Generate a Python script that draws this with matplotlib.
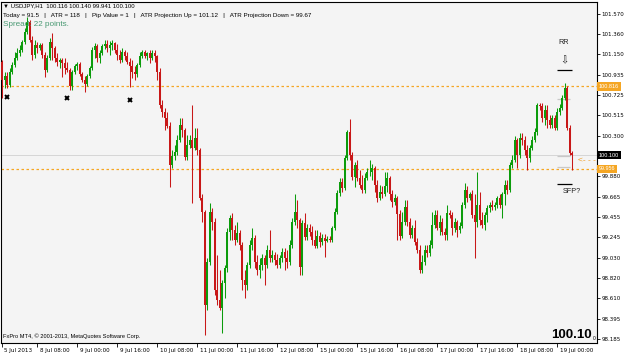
import matplotlib
matplotlib.use('Agg')
import matplotlib.pyplot as plt
import matplotlib.transforms as mtransforms
import numpy as np

# ---------------- data (USDJPY, H1) ----------------
first_open = 101.07
closes = [
    100.88, 100.92, 100.83, 100.97, 101.04, 101.11, 101.16, 101.20, 101.28, 101.38,
    101.49, 101.30, 101.14, 101.25, 101.22, 101.25, 101.14, 100.99, 101.11, 101.28,
    101.22, 101.11, 101.07, 101.09, 101.06, 101.01, 100.99, 100.82, 100.97, 101.03,
    101.05, 100.95, 100.88, 100.84, 100.92, 101.01, 101.20, 101.24, 101.11, 101.16,
    101.24, 101.26, 101.22, 101.25, 101.27, 101.20, 101.14, 101.09, 101.17, 101.13,
    101.07, 101.03, 100.97, 100.94, 101.04, 101.13, 101.17, 101.13, 101.16, 101.11,
    101.16, 101.13, 100.97, 100.62, 100.55, 100.49, 100.40, 100.00, 100.09, 100.13,
    100.26, 100.41, 100.36, 100.08, 100.21, 100.26, 100.17, 100.28, 100.15, 99.65,
    99.51, 98.54, 98.99, 99.51, 99.40, 98.70, 98.59, 98.51, 98.77, 98.92,
    99.30, 99.45, 99.32, 99.22, 99.29, 99.16, 98.80, 98.75, 98.96, 99.16,
    99.24, 98.99, 98.90, 98.96, 99.03, 98.96, 99.11, 99.03, 99.06, 99.01,
    98.96, 99.03, 99.09, 99.03, 98.99, 99.16, 99.40, 99.51, 99.42, 98.93,
    99.39, 99.25, 99.34, 99.30, 99.22, 99.15, 99.26, 99.19, 99.24, 99.21,
    99.23, 99.22, 99.34, 99.51, 99.71, 99.82, 99.76, 100.07, 100.34, 100.10,
    99.87, 100.00, 99.86, 99.79, 99.74, 99.86, 99.92, 99.92, 99.97, 99.79,
    99.65, 99.72, 99.69, 99.78, 99.86, 99.69, 99.61, 99.65, 99.49, 99.26,
    99.40, 99.56, 99.40, 99.27, 99.34, 99.20, 99.11, 98.90, 98.99, 99.11,
    99.08, 99.16, 99.37, 99.48, 99.34, 99.40, 99.30, 99.27, 99.50, 99.48,
    99.34, 99.40, 99.32, 99.36, 99.58, 99.74, 99.65, 99.69, 99.48, 99.40,
    99.58, 99.42, 99.37, 99.48, 99.55, 99.58, 99.56, 99.58, 99.65, 99.58,
    99.69, 99.79, 99.74, 100.00, 100.05, 100.26, 100.10, 100.28, 100.26, 100.15,
    100.07, 100.17, 100.26, 100.34, 100.62, 100.61, 100.49, 100.57, 100.47, 100.41,
    100.49, 100.38, 100.55, 100.59, 100.70, 100.80, 100.38, 100.12, 100.10,
]
highs = [
    101.09, 100.97, 100.97, 101.01, 101.07, 101.17, 101.22, 101.25, 101.30, 101.42,
    101.54, 101.51, 101.34, 101.30, 101.28, 101.27, 101.27, 101.17, 101.14, 101.32,
    101.37, 101.24, 101.16, 101.11, 101.11, 101.11, 101.07, 101.01, 100.99, 101.05,
    101.07, 101.07, 100.97, 100.92, 100.95, 101.03, 101.23, 101.27, 101.26, 101.20,
    101.26, 101.30, 101.30, 101.29, 101.30, 101.28, 101.26, 101.20, 101.22, 101.20,
    101.17, 101.11, 101.09, 101.03, 101.06, 101.17, 101.20, 101.20, 101.17, 101.19,
    101.20, 101.19, 101.14, 101.01, 100.67, 100.59, 100.55, 100.45, 100.15, 100.21,
    100.31, 100.49, 100.49, 100.38, 100.31, 100.31, 100.62, 100.38, 100.38, 100.17,
    99.69, 99.53, 99.03, 99.60, 99.55, 99.45, 99.06, 98.90, 98.80, 98.96,
    99.34, 99.48, 99.50, 99.37, 99.40, 99.32, 99.20, 98.90, 98.99, 99.22,
    99.34, 99.27, 99.06, 99.03, 99.07, 99.06, 99.16, 99.32, 99.11, 99.09,
    99.07, 99.06, 99.13, 99.13, 99.11, 99.22, 99.45, 99.69, 99.63, 99.45,
    99.42, 99.50, 99.38, 99.38, 99.36, 99.32, 99.32, 99.30, 99.28, 99.28,
    99.26, 99.26, 99.36, 99.55, 99.74, 99.86, 99.86, 100.10, 100.36, 100.48,
    100.13, 100.03, 100.05, 99.95, 99.89, 99.91, 99.97, 100.05, 100.01, 99.99,
    99.84, 99.79, 99.78, 99.92, 99.92, 99.88, 99.74, 99.69, 99.67, 99.53,
    99.51, 99.63, 99.63, 99.45, 99.37, 99.42, 99.24, 99.16, 99.06, 99.16,
    99.16, 99.22, 99.51, 99.53, 99.53, 99.48, 99.45, 99.34, 99.58, 99.53,
    99.51, 99.45, 99.42, 99.40, 99.61, 99.81, 99.78, 99.72, 99.74, 99.69,
    99.92, 99.72, 99.51, 99.51, 99.58, 99.61, 99.63, 99.61, 99.67, 99.69,
    99.72, 99.84, 99.84, 100.03, 100.10, 100.30, 100.28, 100.33, 100.33, 100.30,
    100.21, 100.21, 100.30, 100.38, 100.64, 100.64, 100.64, 100.62, 100.62, 100.52,
    100.52, 100.52, 100.59, 100.63, 100.73, 100.85, 100.82, 100.41, 100.14,
]
lows = [
    100.70, 100.80, 100.80, 100.81, 100.95, 101.02, 101.09, 101.13, 101.17, 101.26,
    101.36, 101.28, 101.09, 101.11, 101.16, 101.20, 101.11, 100.91, 100.97, 101.09,
    101.09, 101.07, 101.03, 101.01, 100.91, 100.94, 100.97, 100.78, 100.78, 100.94,
    100.99, 100.92, 100.86, 100.76, 100.82, 100.90, 100.99, 101.11, 101.07, 101.06,
    101.14, 101.21, 101.17, 101.14, 101.20, 101.16, 101.09, 101.06, 101.07, 101.09,
    101.05, 100.81, 100.90, 100.88, 100.91, 101.02, 101.11, 101.11, 101.09, 101.06,
    101.09, 101.07, 100.88, 100.59, 100.50, 100.36, 100.38, 99.77, 99.97, 100.05,
    100.10, 100.24, 100.29, 100.05, 100.05, 100.17, 99.60, 100.15, 100.10, 99.63,
    99.40, 98.23, 98.49, 98.96, 99.32, 98.64, 98.54, 98.49, 98.25, 98.61,
    98.88, 99.22, 99.22, 99.16, 99.19, 99.11, 98.70, 98.61, 98.70, 98.92,
    99.11, 98.92, 98.85, 98.82, 98.90, 98.75, 98.92, 98.99, 98.99, 98.96,
    98.92, 98.92, 98.99, 98.90, 98.92, 98.96, 99.13, 99.37, 99.34, 98.85,
    98.85, 99.22, 99.22, 99.26, 99.16, 99.13, 99.13, 99.14, 99.16, 99.04,
    99.19, 99.19, 99.20, 99.32, 99.49, 99.67, 99.72, 99.74, 100.05, 100.05,
    99.84, 99.77, 99.83, 99.76, 99.71, 99.71, 99.84, 99.88, 99.84, 99.72,
    99.61, 99.63, 99.65, 99.67, 99.72, 99.63, 99.56, 99.58, 99.22, 99.22,
    99.24, 99.37, 99.36, 99.24, 99.24, 99.16, 99.08, 98.87, 98.87, 98.96,
    99.04, 99.05, 99.13, 99.34, 99.32, 99.27, 99.27, 99.22, 99.22, 99.45,
    99.27, 99.30, 99.25, 99.29, 99.34, 99.55, 99.61, 99.63, 99.45, 99.03,
    99.35, 99.37, 99.34, 99.32, 99.40, 99.51, 99.53, 99.53, 99.55, 99.55,
    99.45, 99.58, 99.69, 99.72, 99.97, 100.03, 99.97, 100.07, 100.21, 100.10,
    99.95, 100.03, 100.15, 100.24, 100.31, 100.57, 100.45, 100.41, 100.38, 100.38,
    100.38, 100.36, 100.36, 100.52, 100.57, 100.67, 100.36, 100.10, 99.94,
]
opens = [first_open] + closes[:-1]

tick_bars = [0, 14, 30, 46, 62, 78, 94, 110, 126, 142, 158, 174, 190, 206, 222]
tick_dates = ["5 Jul 2013", "8 Jul 08:00", "9 Jul 00:00", "9 Jul 16:00", "10 Jul 08:00",
              "11 Jul 00:00", "11 Jul 16:00", "12 Jul 08:00", "15 Jul 00:00", "15 Jul 16:00",
              "16 Jul 08:00", "17 Jul 00:00", "17 Jul 16:00", "18 Jul 08:00", "19 Jul 00:00"]
price_ticks = [101.570, 101.360, 101.150, 100.935, 100.725, 100.515, 100.300,
               99.880, 99.665, 99.455, 99.245, 99.030, 98.820, 98.610, 98.395, 98.185]

atr_up_level = 100.816
atr_down_level = 99.956
bid = 100.100
fractal_bars = [2, 26, 51]
fractal_prices = [100.71, 100.70, 100.67]

# ---------------- figure ----------------
W, H = 625, 354
fig = plt.figure(figsize=(W / 100, H / 100), dpi=100, facecolor='white')
ax_l, ax_r, ax_t, ax_b = 1, 597, 2, 343
ax = fig.add_axes([ax_l / W, 1 - ax_b / H, (ax_r - ax_l) / W, (ax_b - ax_t) / H])
ax.set_facecolor('#f4f4f4')

FONT = 'Liberation Sans'
plt.rcParams['font.family'] = [FONT, 'DejaVu Sans']

n = len(closes)
idx = np.arange(n)
o = np.array(opens); c = np.array(closes); hi = np.array(highs); lo = np.array(lows)
up = c >= o
GREEN = '#0c9c0c'
RED = '#c81818'
cols = np.where(up, GREEN, RED)

ax.vlines(idx, lo, hi, colors=cols, linewidth=0.75, zorder=3)
body_bottom = np.minimum(o, c)
body_h = np.maximum(np.abs(c - o), 0.006)
ax.bar(idx, body_h, bottom=body_bottom, width=0.8, color=cols, linewidth=0, zorder=4)

# level lines
ax.axhline(atr_up_level, color='#f5a623', linestyle=(0, (2, 2)), linewidth=0.9, zorder=2)
ax.axhline(atr_down_level, color='#f5a623', linestyle=(0, (2, 2)), linewidth=0.9, zorder=2)
ax.axhline(bid, color='#d6d6d6', linewidth=0.7, zorder=1)

# fractal markers
ax.plot(fractal_bars, fractal_prices, linestyle='none', marker='x', color='black',
        markersize=3.5, markeredgewidth=1.4, zorder=5)

ax.set_xlim(-0.4, 238)
ax.set_ylim(98.143, 101.695)

# axes styling
for s in ax.spines.values():
    s.set_color('black'); s.set_linewidth(0.8)
ax.yaxis.tick_right()
ax.set_yticks(price_ticks)
ax.set_yticklabels([f"{v:.3f}" for v in price_ticks])
ax.tick_params(axis='y', direction='out', length=2.0, width=0.6, pad=1.0, labelsize=4.0,
               colors='black')
ax.set_xticks(tick_bars)
ax.set_xticklabels(tick_dates)
ax.tick_params(axis='x', direction='out', length=3, width=0.6, pad=0.5, labelsize=4.1)
offset = mtransforms.ScaledTranslation(2.5 / 100, 0, fig.dpi_scale_trans)
for lab in ax.get_xticklabels():
    lab.set_horizontalalignment('left')
    lab.set_transform(lab.get_transform() + offset)

# right price boxes
yax_tr = mtransforms.blended_transform_factory(ax.transAxes, ax.transData)
box_off = mtransforms.ScaledTranslation(2.0 / 100, 0, fig.dpi_scale_trans)
for val, fc in [(atr_up_level, '#f5a623'), (bid, 'black'), (atr_down_level, '#f5a623')]:
    ax.text(1.0, val, f"{val:.3f}", transform=yax_tr + box_off, ha='left', va='center',
            fontsize=4.0, color='white', clip_on=False, zorder=10,
            bbox=dict(boxstyle='square,pad=0.3', fc=fc, ec='none'))
ax.text(0.998, 100.045, "<- - -", transform=yax_tr, ha='right', va='center', fontsize=6,
        color='#ee9a20', zorder=6)

# annotations near the last bars
ax.text(222.4, 101.27, "RR", ha='left', va='center', fontsize=5.2, color='#222222')
ax.text(224.8, 101.09, "\u21e9", ha='center', va='center', fontsize=7, color='#222222',
        family='DejaVu Sans')
ax.hlines([100.99, 99.80], 222, 228, colors='black', linewidth=0.9, zorder=6)
ax.hlines([100.685, 100.09, 99.98], 222, 227, colors='#c8c8c8', linewidth=0.9, zorder=2)
ax.text(224.4, 99.72, "SFP?", ha='left', va='center', fontsize=5.2, color='#222222')

# header texts
def ftext(x, y, s, **kw):
    fig.text(x / W, 1 - y / H, s, **kw)

ftext(3, 6, "\u25bc USDJPY,H1  100.116 100.140 99.941 100.100", fontsize=4.3,
      va='center', ha='left', family=[FONT, 'DejaVu Sans'])
ftext(3, 15, "Today = 91.5   |   ATR = 118   |   Pip Value = 1   |   ATR Projection Up = 101.12"
      "   |   ATR Projection Down = 99.67", fontsize=4.5, va='center', ha='left')
ftext(3, 24, "Spread: 22 points.", fontsize=5.9, va='center', ha='left', color='#4a9a74')
ftext(3, 336, "FxPro MT4, \u00a9 2001-2013, MetaQuotes Software Corp.", fontsize=4.1,
      va='center', ha='left')
ftext(592, 335, "100.10", fontsize=9.5, fontweight='bold', va='center', ha='right')
ftext(593, 338, "0", fontsize=3.5, va='center', ha='left')

fig.savefig('out.png', dpi=100, facecolor='white')
